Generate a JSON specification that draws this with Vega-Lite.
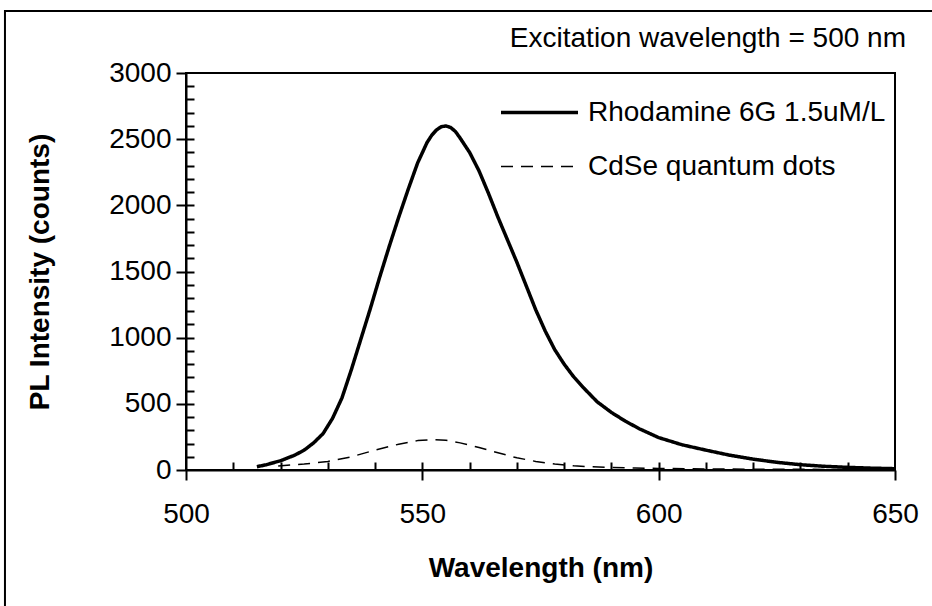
{
  "$schema": "https://vega.github.io/schema/vega-lite/v6.json",
  "width": 709,
  "height": 397,
  "autosize": {"type": "none"},
  "padding": {"left": 186, "top": 73, "right": 37, "bottom": 136},
  "background": "white",
  "title": {
    "text": "Excitation wavelength = 500 nm",
    "anchor": "end",
    "frame": "group",
    "baseline": "alphabetic",
    "offset": -38,
    "dx": 11,
    "dy": 27,
    "fontSize": 28,
    "fontWeight": "normal",
    "font": "Liberation Sans",
    "color": "black"
  },
  "datasets": {
    "spectra": [
      {"series": "Rhodamine 6G 1.5uM/L", "wavelength": 515, "intensity": 25},
      {"series": "Rhodamine 6G 1.5uM/L", "wavelength": 517, "intensity": 40},
      {"series": "Rhodamine 6G 1.5uM/L", "wavelength": 520, "intensity": 70},
      {"series": "Rhodamine 6G 1.5uM/L", "wavelength": 523, "intensity": 112},
      {"series": "Rhodamine 6G 1.5uM/L", "wavelength": 525, "intensity": 150},
      {"series": "Rhodamine 6G 1.5uM/L", "wavelength": 527, "intensity": 205},
      {"series": "Rhodamine 6G 1.5uM/L", "wavelength": 529, "intensity": 275},
      {"series": "Rhodamine 6G 1.5uM/L", "wavelength": 531, "intensity": 390},
      {"series": "Rhodamine 6G 1.5uM/L", "wavelength": 533, "intensity": 545},
      {"series": "Rhodamine 6G 1.5uM/L", "wavelength": 535, "intensity": 760},
      {"series": "Rhodamine 6G 1.5uM/L", "wavelength": 537, "intensity": 990},
      {"series": "Rhodamine 6G 1.5uM/L", "wavelength": 539, "intensity": 1220},
      {"series": "Rhodamine 6G 1.5uM/L", "wavelength": 541, "intensity": 1460},
      {"series": "Rhodamine 6G 1.5uM/L", "wavelength": 543, "intensity": 1690},
      {"series": "Rhodamine 6G 1.5uM/L", "wavelength": 545, "intensity": 1910},
      {"series": "Rhodamine 6G 1.5uM/L", "wavelength": 547, "intensity": 2120},
      {"series": "Rhodamine 6G 1.5uM/L", "wavelength": 549, "intensity": 2320},
      {"series": "Rhodamine 6G 1.5uM/L", "wavelength": 551, "intensity": 2475},
      {"series": "Rhodamine 6G 1.5uM/L", "wavelength": 552, "intensity": 2530},
      {"series": "Rhodamine 6G 1.5uM/L", "wavelength": 553, "intensity": 2570},
      {"series": "Rhodamine 6G 1.5uM/L", "wavelength": 554, "intensity": 2594},
      {"series": "Rhodamine 6G 1.5uM/L", "wavelength": 555, "intensity": 2600},
      {"series": "Rhodamine 6G 1.5uM/L", "wavelength": 556, "intensity": 2588},
      {"series": "Rhodamine 6G 1.5uM/L", "wavelength": 557, "intensity": 2558},
      {"series": "Rhodamine 6G 1.5uM/L", "wavelength": 558, "intensity": 2508},
      {"series": "Rhodamine 6G 1.5uM/L", "wavelength": 560, "intensity": 2400},
      {"series": "Rhodamine 6G 1.5uM/L", "wavelength": 562, "intensity": 2260},
      {"series": "Rhodamine 6G 1.5uM/L", "wavelength": 564, "intensity": 2090},
      {"series": "Rhodamine 6G 1.5uM/L", "wavelength": 566, "intensity": 1910},
      {"series": "Rhodamine 6G 1.5uM/L", "wavelength": 568, "intensity": 1740},
      {"series": "Rhodamine 6G 1.5uM/L", "wavelength": 570, "intensity": 1570},
      {"series": "Rhodamine 6G 1.5uM/L", "wavelength": 572, "intensity": 1390},
      {"series": "Rhodamine 6G 1.5uM/L", "wavelength": 574, "intensity": 1210},
      {"series": "Rhodamine 6G 1.5uM/L", "wavelength": 576, "intensity": 1050},
      {"series": "Rhodamine 6G 1.5uM/L", "wavelength": 578, "intensity": 910},
      {"series": "Rhodamine 6G 1.5uM/L", "wavelength": 580, "intensity": 800},
      {"series": "Rhodamine 6G 1.5uM/L", "wavelength": 582, "intensity": 705},
      {"series": "Rhodamine 6G 1.5uM/L", "wavelength": 584, "intensity": 625},
      {"series": "Rhodamine 6G 1.5uM/L", "wavelength": 587, "intensity": 515},
      {"series": "Rhodamine 6G 1.5uM/L", "wavelength": 590, "intensity": 435},
      {"series": "Rhodamine 6G 1.5uM/L", "wavelength": 593, "intensity": 368},
      {"series": "Rhodamine 6G 1.5uM/L", "wavelength": 596, "intensity": 310},
      {"series": "Rhodamine 6G 1.5uM/L", "wavelength": 600, "intensity": 245},
      {"series": "Rhodamine 6G 1.5uM/L", "wavelength": 605, "intensity": 190},
      {"series": "Rhodamine 6G 1.5uM/L", "wavelength": 610, "intensity": 150},
      {"series": "Rhodamine 6G 1.5uM/L", "wavelength": 615, "intensity": 112},
      {"series": "Rhodamine 6G 1.5uM/L", "wavelength": 620, "intensity": 82},
      {"series": "Rhodamine 6G 1.5uM/L", "wavelength": 625, "intensity": 58},
      {"series": "Rhodamine 6G 1.5uM/L", "wavelength": 630, "intensity": 40},
      {"series": "Rhodamine 6G 1.5uM/L", "wavelength": 635, "intensity": 28},
      {"series": "Rhodamine 6G 1.5uM/L", "wavelength": 640, "intensity": 20},
      {"series": "Rhodamine 6G 1.5uM/L", "wavelength": 645, "intensity": 14},
      {"series": "Rhodamine 6G 1.5uM/L", "wavelength": 650, "intensity": 10},
      {"series": "CdSe quantum dots", "wavelength": 519.5, "intensity": 30},
      {"series": "CdSe quantum dots", "wavelength": 525, "intensity": 45},
      {"series": "CdSe quantum dots", "wavelength": 530, "intensity": 65},
      {"series": "CdSe quantum dots", "wavelength": 535, "intensity": 100},
      {"series": "CdSe quantum dots", "wavelength": 540, "intensity": 150},
      {"series": "CdSe quantum dots", "wavelength": 545, "intensity": 195},
      {"series": "CdSe quantum dots", "wavelength": 549, "intensity": 222},
      {"series": "CdSe quantum dots", "wavelength": 552, "intensity": 230},
      {"series": "CdSe quantum dots", "wavelength": 555, "intensity": 225},
      {"series": "CdSe quantum dots", "wavelength": 558, "intensity": 205},
      {"series": "CdSe quantum dots", "wavelength": 562, "intensity": 170},
      {"series": "CdSe quantum dots", "wavelength": 566, "intensity": 130},
      {"series": "CdSe quantum dots", "wavelength": 570, "intensity": 92},
      {"series": "CdSe quantum dots", "wavelength": 574, "intensity": 65},
      {"series": "CdSe quantum dots", "wavelength": 578, "intensity": 45},
      {"series": "CdSe quantum dots", "wavelength": 582, "intensity": 32},
      {"series": "CdSe quantum dots", "wavelength": 586, "intensity": 24},
      {"series": "CdSe quantum dots", "wavelength": 590, "intensity": 20},
      {"series": "CdSe quantum dots", "wavelength": 595, "intensity": 15},
      {"series": "CdSe quantum dots", "wavelength": 600, "intensity": 12},
      {"series": "CdSe quantum dots", "wavelength": 610, "intensity": 8},
      {"series": "CdSe quantum dots", "wavelength": 620, "intensity": 6},
      {"series": "CdSe quantum dots", "wavelength": 630, "intensity": 5},
      {"series": "CdSe quantum dots", "wavelength": 640, "intensity": 4},
      {"series": "CdSe quantum dots", "wavelength": 650, "intensity": 3}
    ],
    "frame": [
      {"x1": 461.7, "x2": 720, "y1": 3468, "y2": -3000}
    ]
  },
  "layer": [
    {
      "data": {"name": "frame"},
      "mark": {"type": "rect", "fill": null, "fillOpacity": 0, "stroke": "black", "strokeWidth": 2, "clip": false},
      "encoding": {
        "x": {"field": "x1", "type": "quantitative", "scale": {"domain": [500, 650], "nice": false, "zero": false}, "axis": null},
        "x2": {"field": "x2"},
        "y": {"field": "y1", "type": "quantitative", "scale": {"domain": [0, 3000], "nice": false}, "axis": null},
        "y2": {"field": "y2"}
      }
    },
    {
      "data": {"name": "spectra"},
      "mark": {"type": "line", "clip": true, "strokeCap": "butt", "strokeJoin": "round"},
      "encoding": {
        "x": {
          "field": "wavelength", "type": "quantitative",
          "scale": {"domain": [500, 650], "nice": false, "zero": false},
          "axis": {
            "orient": "bottom",
            "values": [500, 550, 600, 650],
            "format": "d",
            "tickSize": 10,
            "labelPadding": 20,
            "title": "Wavelength (nm)",
            "titlePadding": 26,
            "labelFlush": false,
            "labelOverlap": false
          }
        },
        "y": {
          "field": "intensity", "type": "quantitative",
          "scale": {"domain": [0, 3000], "nice": false},
          "axis": {
            "orient": "left",
            "values": [0, 500, 1000, 1500, 2000, 2500, 3000],
            "format": "d",
            "tickSize": 10,
            "labelPadding": 5,
            "title": "PL Intensity (counts)",
            "titlePadding": 54,
            "labelFlush": false,
            "labelOverlap": false
          }
        },
        "color": {
          "field": "series", "type": "nominal",
          "scale": {"domain": ["Rhodamine 6G 1.5uM/L", "CdSe quantum dots"], "range": ["black", "black"]},
          "legend": {
            "orient": "none",
            "legendX": 313,
            "legendY": -1,
            "title": null,
            "symbolType": "stroke",
            "symbolSize": 5929,
            "labelFontSize": 28,
            "labelFont": "Liberation Sans",
            "labelColor": "black",
            "labelLimit": 0,
            "labelOffset": 8,
            "rowPadding": -30,
            "padding": 0
          }
        },
        "strokeDash": {
          "field": "series", "type": "nominal",
          "scale": {"domain": ["Rhodamine 6G 1.5uM/L", "CdSe quantum dots"], "range": [[1, 0], [12, 8]]},
          "legend": {
            "orient": "none",
            "legendX": 313,
            "legendY": -1,
            "title": null,
            "symbolType": "stroke",
            "symbolSize": 5929,
            "labelFontSize": 28,
            "labelFont": "Liberation Sans",
            "labelColor": "black",
            "labelLimit": 0,
            "labelOffset": 8,
            "rowPadding": -30,
            "padding": 0
          }
        },
        "strokeWidth": {
          "field": "series", "type": "nominal",
          "scale": {"domain": ["Rhodamine 6G 1.5uM/L", "CdSe quantum dots"], "range": [3.5, 1.5]},
          "legend": {
            "orient": "none",
            "legendX": 313,
            "legendY": -1,
            "title": null,
            "symbolType": "stroke",
            "symbolSize": 5929,
            "labelFontSize": 28,
            "labelFont": "Liberation Sans",
            "labelColor": "black",
            "labelLimit": 0,
            "labelOffset": 8,
            "rowPadding": -30,
            "padding": 0
          }
        }
      }
    },
    {
      "data": {"name": "spectra"},
      "mark": {"type": "point", "opacity": 0},
      "encoding": {
        "x": {
          "field": "wavelength", "type": "quantitative",
          "scale": {"domain": [500, 650], "nice": false, "zero": false},
          "axis": {
            "orient": "bottom",
            "values": [510, 520, 530, 540, 550, 560, 570, 580, 590, 600, 610, 620, 630, 640],
            "tickSize": -8,
            "labels": false,
            "domain": false,
            "title": null
          }
        },
        "y": {
          "field": "intensity", "type": "quantitative",
          "scale": {"domain": [0, 3000], "nice": false},
          "axis": {
            "orient": "left",
            "values": [100, 200, 300, 400, 500, 600, 700, 800, 900, 1000, 1100, 1200, 1300, 1400, 1500, 1600, 1700, 1800, 1900, 2000, 2100, 2200, 2300, 2400, 2500, 2600, 2700, 2800, 2900],
            "tickSize": -8,
            "labels": false,
            "domain": false,
            "title": null
          }
        }
      }
    }
  ],
  "resolve": {"axis": {"x": "independent", "y": "independent"}},
  "config": {
    "font": "Liberation Sans",
    "view": {"stroke": "black", "strokeWidth": 2},
    "axis": {
      "grid": false,
      "domainColor": "black",
      "domainWidth": 2,
      "tickColor": "black",
      "tickWidth": 2,
      "labelFont": "Liberation Sans",
      "labelFontSize": 28,
      "labelColor": "black",
      "titleFont": "Liberation Sans",
      "titleFontSize": 28,
      "titleFontWeight": "bold",
      "titleColor": "black"
    }
  }
}
